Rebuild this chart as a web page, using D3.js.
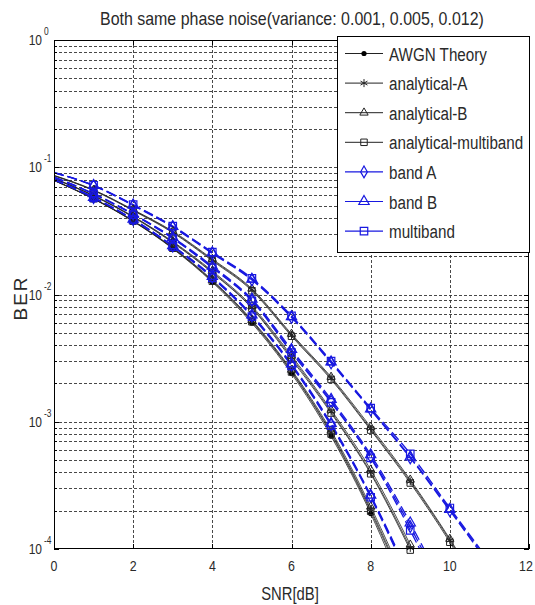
<!DOCTYPE html>
<html>
<head>
<meta charset="utf-8">
<script src="https://cdn.jsdelivr.net/npm/d3@7"></script>
<style>
  body { margin: 0; background: #fff; }
  svg { display: block; }
</style>
</head>
<body>
<svg id="chart" width="535" height="605"></svg>
<script>
// SNR grid (dB) shared by every curve
const snr = [0, 1, 2, 3, 4, 5, 6, 7, 8, 9, 10, 11];

// Theoretical BPSK over AWGN
const awgnTheory = [0.0786, 0.0563, 0.0375, 0.0229, 0.0125, 0.00595, 0.00239, 0.00077, 0.00019, 0.000034, 0.0000039, 0.0000003];

// Phase-noise variance 0.001
const anaA_v1 = [0.0789, 0.0566, 0.0378, 0.0232, 0.0128, 0.0062, 0.00250, 0.00082, 0.000205, 0.000040, 0.0000055, 0.0000005];
const anaB_v1 = [0.0790, 0.0568, 0.0380, 0.0234, 0.0130, 0.0063, 0.00256, 0.00085, 0.000215, 0.000043, 0.0000060, 0.0000006];
const anaM_v1 = [0.0788, 0.0565, 0.0377, 0.0231, 0.0127, 0.0061, 0.00246, 0.00080, 0.000198, 0.000038, 0.0000050, 0.0000005];
const bandA_v1 = [0.0800, 0.0578, 0.0388, 0.0240, 0.0137, 0.0068, 0.00280, 0.00095, 0.000260, 0.000055, 0.0000080, 0.0000008];
const bandB_v1 = [0.0802, 0.0580, 0.0390, 0.0242, 0.0139, 0.0069, 0.00285, 0.00097, 0.000265, 0.000057, 0.0000085, 0.0000009];
const bandM_v1 = [0.0798, 0.0575, 0.0386, 0.0238, 0.0135, 0.0067, 0.00275, 0.00093, 0.000255, 0.000053, 0.0000078, 0.0000008];

// Phase-noise variance 0.005
const anaA_v2 = [0.0815, 0.0598, 0.0408, 0.0258, 0.0150, 0.0079, 0.00320, 0.00120, 0.000400, 0.000102, 0.000021, 0.0000030];
const anaB_v2 = [0.0818, 0.0601, 0.0411, 0.0261, 0.0153, 0.0081, 0.00330, 0.00124, 0.000420, 0.000108, 0.000023, 0.0000034];
const anaM_v2 = [0.0812, 0.0595, 0.0405, 0.0255, 0.0148, 0.0078, 0.00310, 0.00117, 0.000390, 0.000098, 0.000020, 0.0000028];
const bandA_v2 = [0.0835, 0.0618, 0.0428, 0.0278, 0.0164, 0.0090, 0.00360, 0.00145, 0.000530, 0.000150, 0.000035, 0.0000060];
const bandB_v2 = [0.0838, 0.0621, 0.0431, 0.0281, 0.0167, 0.0092, 0.00370, 0.00150, 0.000550, 0.000160, 0.000038, 0.0000065];
const bandM_v2 = [0.0832, 0.0615, 0.0425, 0.0275, 0.0162, 0.0089, 0.00350, 0.00142, 0.000520, 0.000140, 0.000032, 0.0000055];

// Phase-noise variance 0.012
const anaA_v3 = [0.0860, 0.0660, 0.0460, 0.0310, 0.0187, 0.0109, 0.00480, 0.00220, 0.000880, 0.000340, 0.000117, 0.000035];
const anaB_v3 = [0.0864, 0.0664, 0.0464, 0.0314, 0.0190, 0.0111, 0.00490, 0.00225, 0.000910, 0.000350, 0.000120, 0.000037];
const anaM_v3 = [0.0856, 0.0656, 0.0456, 0.0306, 0.0184, 0.0107, 0.00470, 0.00215, 0.000860, 0.000330, 0.000113, 0.000033];
const bandA_v3 = [0.0905, 0.0715, 0.0500, 0.0338, 0.0210, 0.0130, 0.00660, 0.00290, 0.001240, 0.000520, 0.000200, 0.000075];
const bandB_v3 = [0.0908, 0.0720, 0.0505, 0.0342, 0.0213, 0.0132, 0.00670, 0.00295, 0.001260, 0.000530, 0.000205, 0.000077];
const bandM_v3 = [0.0910, 0.0722, 0.0508, 0.0345, 0.0215, 0.0134, 0.00680, 0.00300, 0.001280, 0.000560, 0.000210, 0.000080];

// Legend entries and axis ticks
const legendLabels = ["AWGN Theory", "analytical-A", "analytical-B", "analytical-multiband", "band A", "band B", "multiband"];
const xTicks = [0, 2, 4, 6, 8, 10, 12];
const yExponents = [0, -1, -2, -3, -4];
const titleText = "Both same phase noise(variance: 0.001, 0.005, 0.012)";

// ---------------------------------------------------------------
const BLUE = "#1818e0";
const DARK = "#222";
const TEXT = "#2a2a2a";
const FONT = "'Liberation Sans', Arial, sans-serif";

// series table: kind -> marker/line style
const series = [
  { name: "AWGN Theory", kind: "dot", data: awgnTheory },
  { kind: "star", data: anaA_v1 }, { kind: "tri", data: anaB_v1 }, { kind: "sq", data: anaM_v1 },
  { kind: "star", data: anaA_v2 }, { kind: "tri", data: anaB_v2 }, { kind: "sq", data: anaM_v2 },
  { kind: "star", data: anaA_v3 }, { kind: "tri", data: anaB_v3 }, { kind: "sq", data: anaM_v3 },
  { kind: "bdia", data: bandA_v1 }, { kind: "btri", data: bandB_v1 }, { kind: "bsq", data: bandM_v1 },
  { kind: "bdia", data: bandA_v2 }, { kind: "btri", data: bandB_v2 }, { kind: "bsq", data: bandM_v2 },
  { kind: "bdia", data: bandA_v3 }, { kind: "btri", data: bandB_v3 }, { kind: "bsq", data: bandM_v3 }
];
const legendKinds = ["dot", "star", "tri", "sq", "bdia", "btri", "bsq"];

const svg = d3.select("#chart");
const plot = { left: 54, right: 529, top: 40, bottom: 549 };

const x = d3.scaleLinear().domain([0, 12]).range([plot.left, plot.right]);
const y = d3.scaleLog().domain([1e-4, 1]).range([plot.bottom, plot.top]);

// condensed text helper: a horizontally squeezed label placed at (x0, y0)
function ctext(g, str, x0, y0, size, anchor, k, fixedW) {
  const holder = g.append("g");
  const t = holder.append("text")
    .attr("x", 0).attr("y", 0)
    .attr("font-family", FONT).attr("font-size", size)
    .attr("fill", TEXT).text(str);
  const len = t.node().getComputedTextLength();
  const sx = fixedW ? fixedW / len : (k || 0.8);
  const w = len * sx;
  const xs = anchor === "middle" ? x0 - w / 2 : anchor === "end" ? x0 - w : x0;
  holder.attr("transform", `translate(${xs},${y0}) scale(${sx},1)`);
  return t;
}

// ---- grid ----
const grid = svg.append("g").attr("stroke", "#333").attr("stroke-width", 0.9)
  .attr("stroke-dasharray", "3,2").attr("fill", "none");
const yGridVals = [];
for (let e = -4; e < 0; e++) for (let m = 1; m <= 9; m++) yGridVals.push(m * Math.pow(10, e));
yGridVals.filter(v => v > 1e-4).forEach(v => {
  grid.append("line").attr("x1", plot.left).attr("x2", plot.right)
    .attr("y1", Math.round(y(v)) + 0.5).attr("y2", Math.round(y(v)) + 0.5);
});
xTicks.filter(v => v > 0 && v < 12).forEach(v => {
  grid.append("line").attr("y1", plot.top).attr("y2", plot.bottom)
    .attr("x1", Math.round(x(v)) + 0.5).attr("x2", Math.round(x(v)) + 0.5);
});

// ---- curves ----
svg.append("clipPath").attr("id", "clip").append("rect")
  .attr("x", plot.left).attr("y", plot.top)
  .attr("width", plot.right - plot.left).attr("height", plot.bottom - plot.top);

const line = d3.line()
  .x((d, i) => x(snr[i]))
  .y(d => y(d))
  .curve(d3.curveMonotoneX);

const curves = svg.append("g").attr("clip-path", "url(#clip)");
series.filter(s => s.kind[0] !== "b").forEach(s => {
  curves.append("path").attr("d", line(s.data)).attr("fill", "none")
    .attr("stroke", DARK).attr("stroke-width", 0.8);
});
series.filter(s => s.kind[0] === "b").forEach(s => {
  curves.append("path").attr("d", line(s.data)).attr("fill", "none")
    .attr("stroke", BLUE).attr("stroke-width", 1.3).attr("stroke-dasharray", "10,4");
});

// ---- markers ----
function drawMarker(g, kind, cx, cy) {
  const blue = kind[0] === "b";
  const col = blue ? BLUE : DARK;
  if (kind === "dot") {
    g.append("circle").attr("cx", cx).attr("cy", cy).attr("r", 2.6).attr("fill", "#000");
  } else if (kind === "star") {
    const r = 4;
    const p = d3.path();
    for (let a = 0; a < 3; a++) {
      const ang = a * Math.PI / 3 + Math.PI / 2;
      p.moveTo(cx + r * Math.cos(ang), cy + r * Math.sin(ang));
      p.lineTo(cx - r * Math.cos(ang), cy - r * Math.sin(ang));
    }
    g.append("path").attr("d", p.toString()).attr("stroke", col).attr("stroke-width", 1).attr("fill", "none");
  } else {
    const type = kind.endsWith("tri") ? d3.symbolTriangle : kind.endsWith("sq") ? d3.symbolSquare : d3.symbolDiamond;
    const size = kind === "tri" ? 30 : kind === "sq" ? 42 : kind === "btri" ? 46 : kind === "bsq" ? 56 : 40;
    g.append("path").attr("d", d3.symbol(type, size)())
      .attr("transform", `translate(${cx},${cy})`)
      .attr("fill", "none").attr("stroke", col).attr("stroke-width", blue ? 1.2 : 1);
  }
}

const marks = svg.append("g");
// analytical markers first, simulated on top
series.filter(s => s.kind[0] !== "b").concat(series.filter(s => s.kind[0] === "b")).forEach(s => {
  s.data.forEach((v, i) => {
    if (snr[i] >= 1 && snr[i] <= 10 && v >= 0.92e-4) drawMarker(marks, s.kind, x(snr[i]), y(v));
  });
});

// ---- frame and ticks ----
const frame = svg.append("g").attr("stroke", "#000").attr("stroke-width", 1).attr("fill", "none");
frame.append("rect").attr("x", plot.left + 0.5).attr("y", plot.top + 0.5)
  .attr("width", plot.right - plot.left - 1).attr("height", plot.bottom - plot.top - 1);

const axisY = d3.axisLeft(y).tickValues(yGridVals.concat([1])).tickSize(0).tickFormat("");
svg.append("g").attr("transform", `translate(${plot.left},0)`).call(axisY).select(".domain").remove();
yGridVals.concat([1]).forEach(v => {
  const major = Math.abs(Math.log10(v) - Math.round(Math.log10(v))) < 1e-9;
  const len = major ? 5 : 3;
  const yy = Math.round(y(v)) + 0.5;
  frame.append("line").attr("x1", plot.left).attr("x2", plot.left + len).attr("y1", yy).attr("y2", yy);
  frame.append("line").attr("x1", plot.right).attr("x2", plot.right - len).attr("y1", yy).attr("y2", yy);
});
const axisX = d3.axisBottom(x).tickValues(xTicks).tickSize(0).tickFormat("");
svg.append("g").attr("transform", `translate(0,${plot.bottom})`).call(axisX).select(".domain").remove();
xTicks.forEach(v => {
  const xx = Math.round(x(v)) + 0.5;
  frame.append("line").attr("x1", xx).attr("x2", xx).attr("y1", plot.bottom).attr("y2", plot.bottom - 5);
  frame.append("line").attr("x1", xx).attr("x2", xx).attr("y1", plot.top).attr("y2", plot.top + 5);
});

// ---- tick labels ----
const labels = svg.append("g");
xTicks.forEach(v => ctext(labels, String(v), Math.min(x(v), 526), 571, 15.5, "middle", 0.8));
yExponents.forEach(e => {
  const yy = y(Math.pow(10, e));
  ctext(labels, "10", 42, yy + 5, 15, "end", 0.8);
  ctext(labels, String(e), 44, yy - 5, 10.5, "start", 0.8);
});

// ---- axis titles and chart title ----
ctext(labels, "SNR[dB]", 290, 600, 19, "middle", 0.78);
const ber = svg.append("g").attr("transform", "translate(27,298) rotate(-90)");
ber.append("text").attr("x", 0).attr("y", 0).attr("text-anchor", "middle")
  .attr("font-family", FONT).attr("font-size", 19).attr("fill", TEXT)
  .attr("letter-spacing", 2).text("BER");
ctext(labels, titleText, 292, 25, 18.5, "middle", 0.8, 384);

// ---- legend ----
const lg = svg.append("g");
lg.append("rect").attr("x", 337.5).attr("y", 36.5).attr("width", 192).attr("height", 216)
  .attr("fill", "#fff").attr("stroke", "#000").attr("stroke-width", 1);
legendLabels.forEach((name, i) => {
  const ry = 53.5 + i * 29.6;
  const kind = legendKinds[i];
  const blue = kind[0] === "b";
  lg.append("line").attr("x1", 345).attr("x2", 383).attr("y1", ry).attr("y2", ry)
    .attr("stroke", blue ? BLUE : DARK).attr("stroke-width", blue ? 1.2 : 1);
  drawMarker(lg, kind, 364, ry);
  ctext(lg, name, 389, ry + 7, 19, "start", 0.8);
});
</script>
</body>
</html>
